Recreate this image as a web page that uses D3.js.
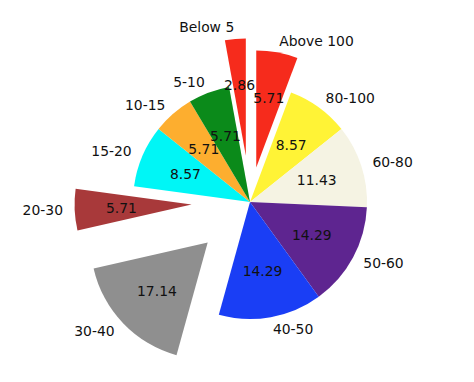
<!DOCTYPE html>
<html>
<head>
<meta charset="utf-8">
<script src="https://cdn.jsdelivr.net/npm/d3@7"></script>
<style>
  body { margin: 0; background: #fff; }
  text { font-family: "DejaVu Sans", sans-serif; font-size: 13.9px; fill: #111; }
</style>
</head>
<body>
<div id="chart"></div>
<script>
// slices, clockwise from 12 o'clock
var labels = ["Above 100", "80-100", "60-80", "50-60", "40-50", "30-40", "20-30", "15-20", "10-15", "5-10", "Below 5"];
var values = [5.71, 8.57, 11.43, 14.29, 14.29, 17.14, 5.71, 8.57, 5.71, 5.71, 2.86];

// how far each slice is pulled out (fraction of radius) and fill colours
var explode = [0.3, 0, 0, 0, 0, 0.5, 0.5, 0, 0, 0, 0.4];
var colors = ["#f62b1c", "#fff336", "#f5f3e3", "#5e2590", "#1a3ef5", "#8f8f8f", "#a8393a", "#00f6f6", "#fdae2f", "#0b8a1a", "#f62b1c"];

var width = 474, height = 382;
var cx = 250, cy = 202, R = 117;

var svg = d3.select("#chart")
    .append("svg")
    .attr("width", width)
    .attr("height", height);

var pie = d3.pie().sort(null).value(function (d) { return d; });
var arc = d3.arc().innerRadius(0).outerRadius(R);

var arcs = pie(values);

/* offset of a slice's apex after exploding */
function shift(d, i) {
    var a = (d.startAngle + d.endAngle) / 2;
    var r = explode[i] * R;
    return [cx + r * Math.sin(a), cy - r * Math.cos(a)];
}

var g = svg.selectAll(".slice")
    .data(arcs)
    .enter().append("g")
    .attr("class", "slice")
    .attr("transform", function (d, i) {
        var p = shift(d, i);
        return "translate(" + p[0] + "," + p[1] + ")";
    });

g.append("path")
    .attr("d", arc)
    .style("fill", function (d, i) { return colors[i]; });

// percent text at 0.6 R
g.append("text")
    .attr("x", function (d) { return 0.6 * R * Math.sin((d.startAngle + d.endAngle) / 2); })
    .attr("y", function (d) { return -0.6 * R * Math.cos((d.startAngle + d.endAngle) / 2); })
    .attr("dy", "0.36em")
    .style("text-anchor", "middle")
    .text(function (d) { return d.value.toFixed(2); });

// category labels at 1.1 R
g.append("text")
    .attr("x", function (d) { return 1.1 * R * Math.sin((d.startAngle + d.endAngle) / 2); })
    .attr("y", function (d) { return -1.1 * R * Math.cos((d.startAngle + d.endAngle) / 2); })
    .attr("dy", "0.36em")
    .style("text-anchor", function (d, i) {
        var a = (d.startAngle + d.endAngle) / 2;
        var xt = shift(d, i)[0] - cx + 1.1 * R * Math.sin(a);
        return xt > 0 ? "start" : "end";
    })
    .text(function (d, i) { return labels[i]; });
</script>
</body>
</html>
